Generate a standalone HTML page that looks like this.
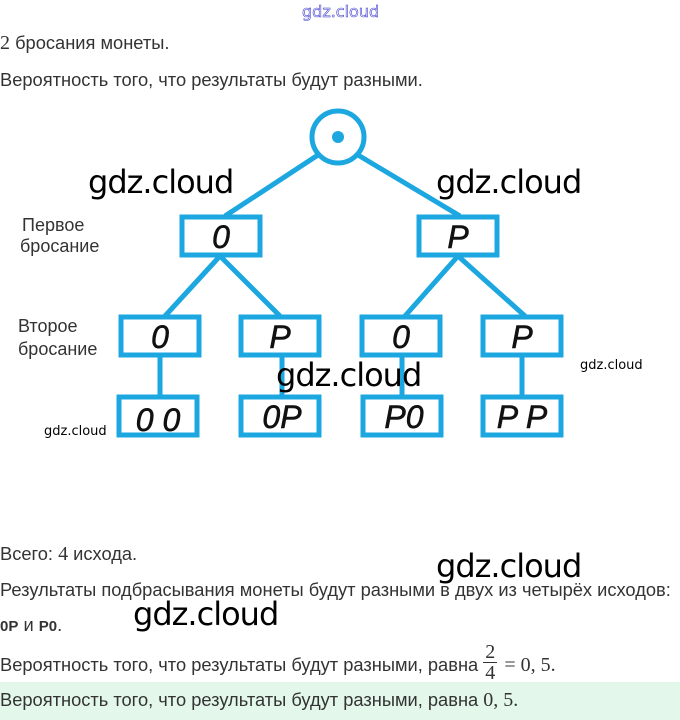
<!DOCTYPE html>
<html><head><meta charset="utf-8"><style>
body{margin:0;width:680px;height:720px;background:#fff;position:relative;overflow:hidden;font-family:"Liberation Sans",sans-serif;color:#333}
.t{position:absolute;left:0;font-size:18.3px;white-space:nowrap}
.m{font-family:"Liberation Serif",serif;font-size:20px}
.w{position:absolute;font-family:"DejaVu Sans","Liberation Sans",sans-serif;color:#000;white-space:nowrap}
.big{font-size:32px;letter-spacing:-1px}
.sm{font-size:13px}
.fr{position:absolute;left:0;top:-28px;text-align:center;font-family:"Liberation Serif",serif;font-size:20px;line-height:20px}
.fr span{display:block}
</style></head><body>
<div class="w sm" style="left:302px;top:2px;color:#fff;-webkit-text-stroke:0.6px #4040d0;font-size:16px">gdz.cloud</div>
<div class="t" style="top:32px"><span class="m">2</span> бросания монеты.</div>
<div class="t" style="top:69px">Вероятность того, что результаты будут разными.</div>
<svg style="position:absolute;left:0;top:0" width="680" height="460">
<g stroke="#1ca7e0" stroke-width="5" fill="none">
<circle cx="338" cy="137" r="26"/>
<line x1="318" y1="155" x2="225" y2="216"/><line x1="358" y1="155" x2="460" y2="216"/>
<line x1="220" y1="256" x2="165" y2="316"/><line x1="220" y1="256" x2="280" y2="316"/>
<line x1="458" y1="256" x2="405" y2="316"/><line x1="458" y1="256" x2="525" y2="316"/>
<line x1="160" y1="356" x2="160" y2="396"/><line x1="282" y1="356" x2="282" y2="396"/>
<line x1="402" y1="356" x2="402" y2="396"/><line x1="522" y1="356" x2="522" y2="396"/>
<rect x="182" y="217" width="78" height="38"/><rect x="419" y="217" width="78" height="38"/>
<rect x="121" y="317" width="78" height="38"/><rect x="241" y="317" width="78" height="38"/>
<rect x="362" y="317" width="78" height="38"/><rect x="483" y="317" width="78" height="38"/>
<rect x="119" y="397" width="78" height="38"/><rect x="241" y="397" width="78" height="38"/>
<rect x="363" y="397" width="78" height="38"/><rect x="483" y="397" width="78" height="38"/>
</g>
<circle cx="338" cy="137" r="6" fill="#1ca7e0"/>
<g font-family="Liberation Sans,sans-serif" font-style="italic" font-size="32" fill="#111" text-anchor="middle" stroke="#111" stroke-width="0.6">
<text x="221" y="248">0</text><text x="458" y="248">P</text>
<text x="160" y="348">0</text><text x="280" y="348">P</text><text x="401" y="348">0</text><text x="522" y="348">P</text>
<text x="158" y="431">0 0</text><text x="282" y="428">0P</text><text x="404" y="428">P0</text><text x="522" y="428">P P</text>
</g>
<g font-family="Liberation Sans,sans-serif" font-size="18" fill="#333">
<text x="22" y="231">Первое</text><text x="20" y="252">бросание</text>
<text x="18" y="332">Второе</text><text x="18" y="355">бросание</text>
</g>
</svg>
<div class="w big" style="left:88px;top:163px">gdz.cloud</div>
<div class="w big" style="left:436px;top:163px">gdz.cloud</div>
<div class="w big" style="left:276px;top:356px">gdz.cloud</div>
<div class="w sm" style="left:580px;top:358px">gdz.cloud</div>
<div class="w sm" style="left:44px;top:424px">gdz.cloud</div>
<div class="t" style="top:543px">Всего: <span class="m">4</span> исхода.</div>
<div class="t" style="top:579px">Результаты подбрасывания монеты будут разными в двух из четырёх исходов:</div>
<div class="t" style="top:614px"><b style="font-size:15px">0P</b> и <b style="font-size:15px">P0</b>.</div>
<div class="w big" style="left:436px;top:547px">gdz.cloud</div>
<div class="w big" style="left:133px;top:595px">gdz.cloud</div>
<div class="t" style="top:654px">Вероятность того, что результаты будут разными, равна <span style="display:inline-block;position:relative;width:16px;height:1px"><span class="fr"><span style="border-bottom:1.2px solid #333;padding:0 2px">2</span><span>4</span></span></span> <span class="m">= 0, 5.</span></div>
<div style="position:absolute;left:0;top:682px;width:680px;height:38px;background:#e3f8ea"></div>
<div class="t" style="top:689px">Вероятность того, что результаты будут разными, равна <span class="m">0, 5.</span></div>
</body></html>
